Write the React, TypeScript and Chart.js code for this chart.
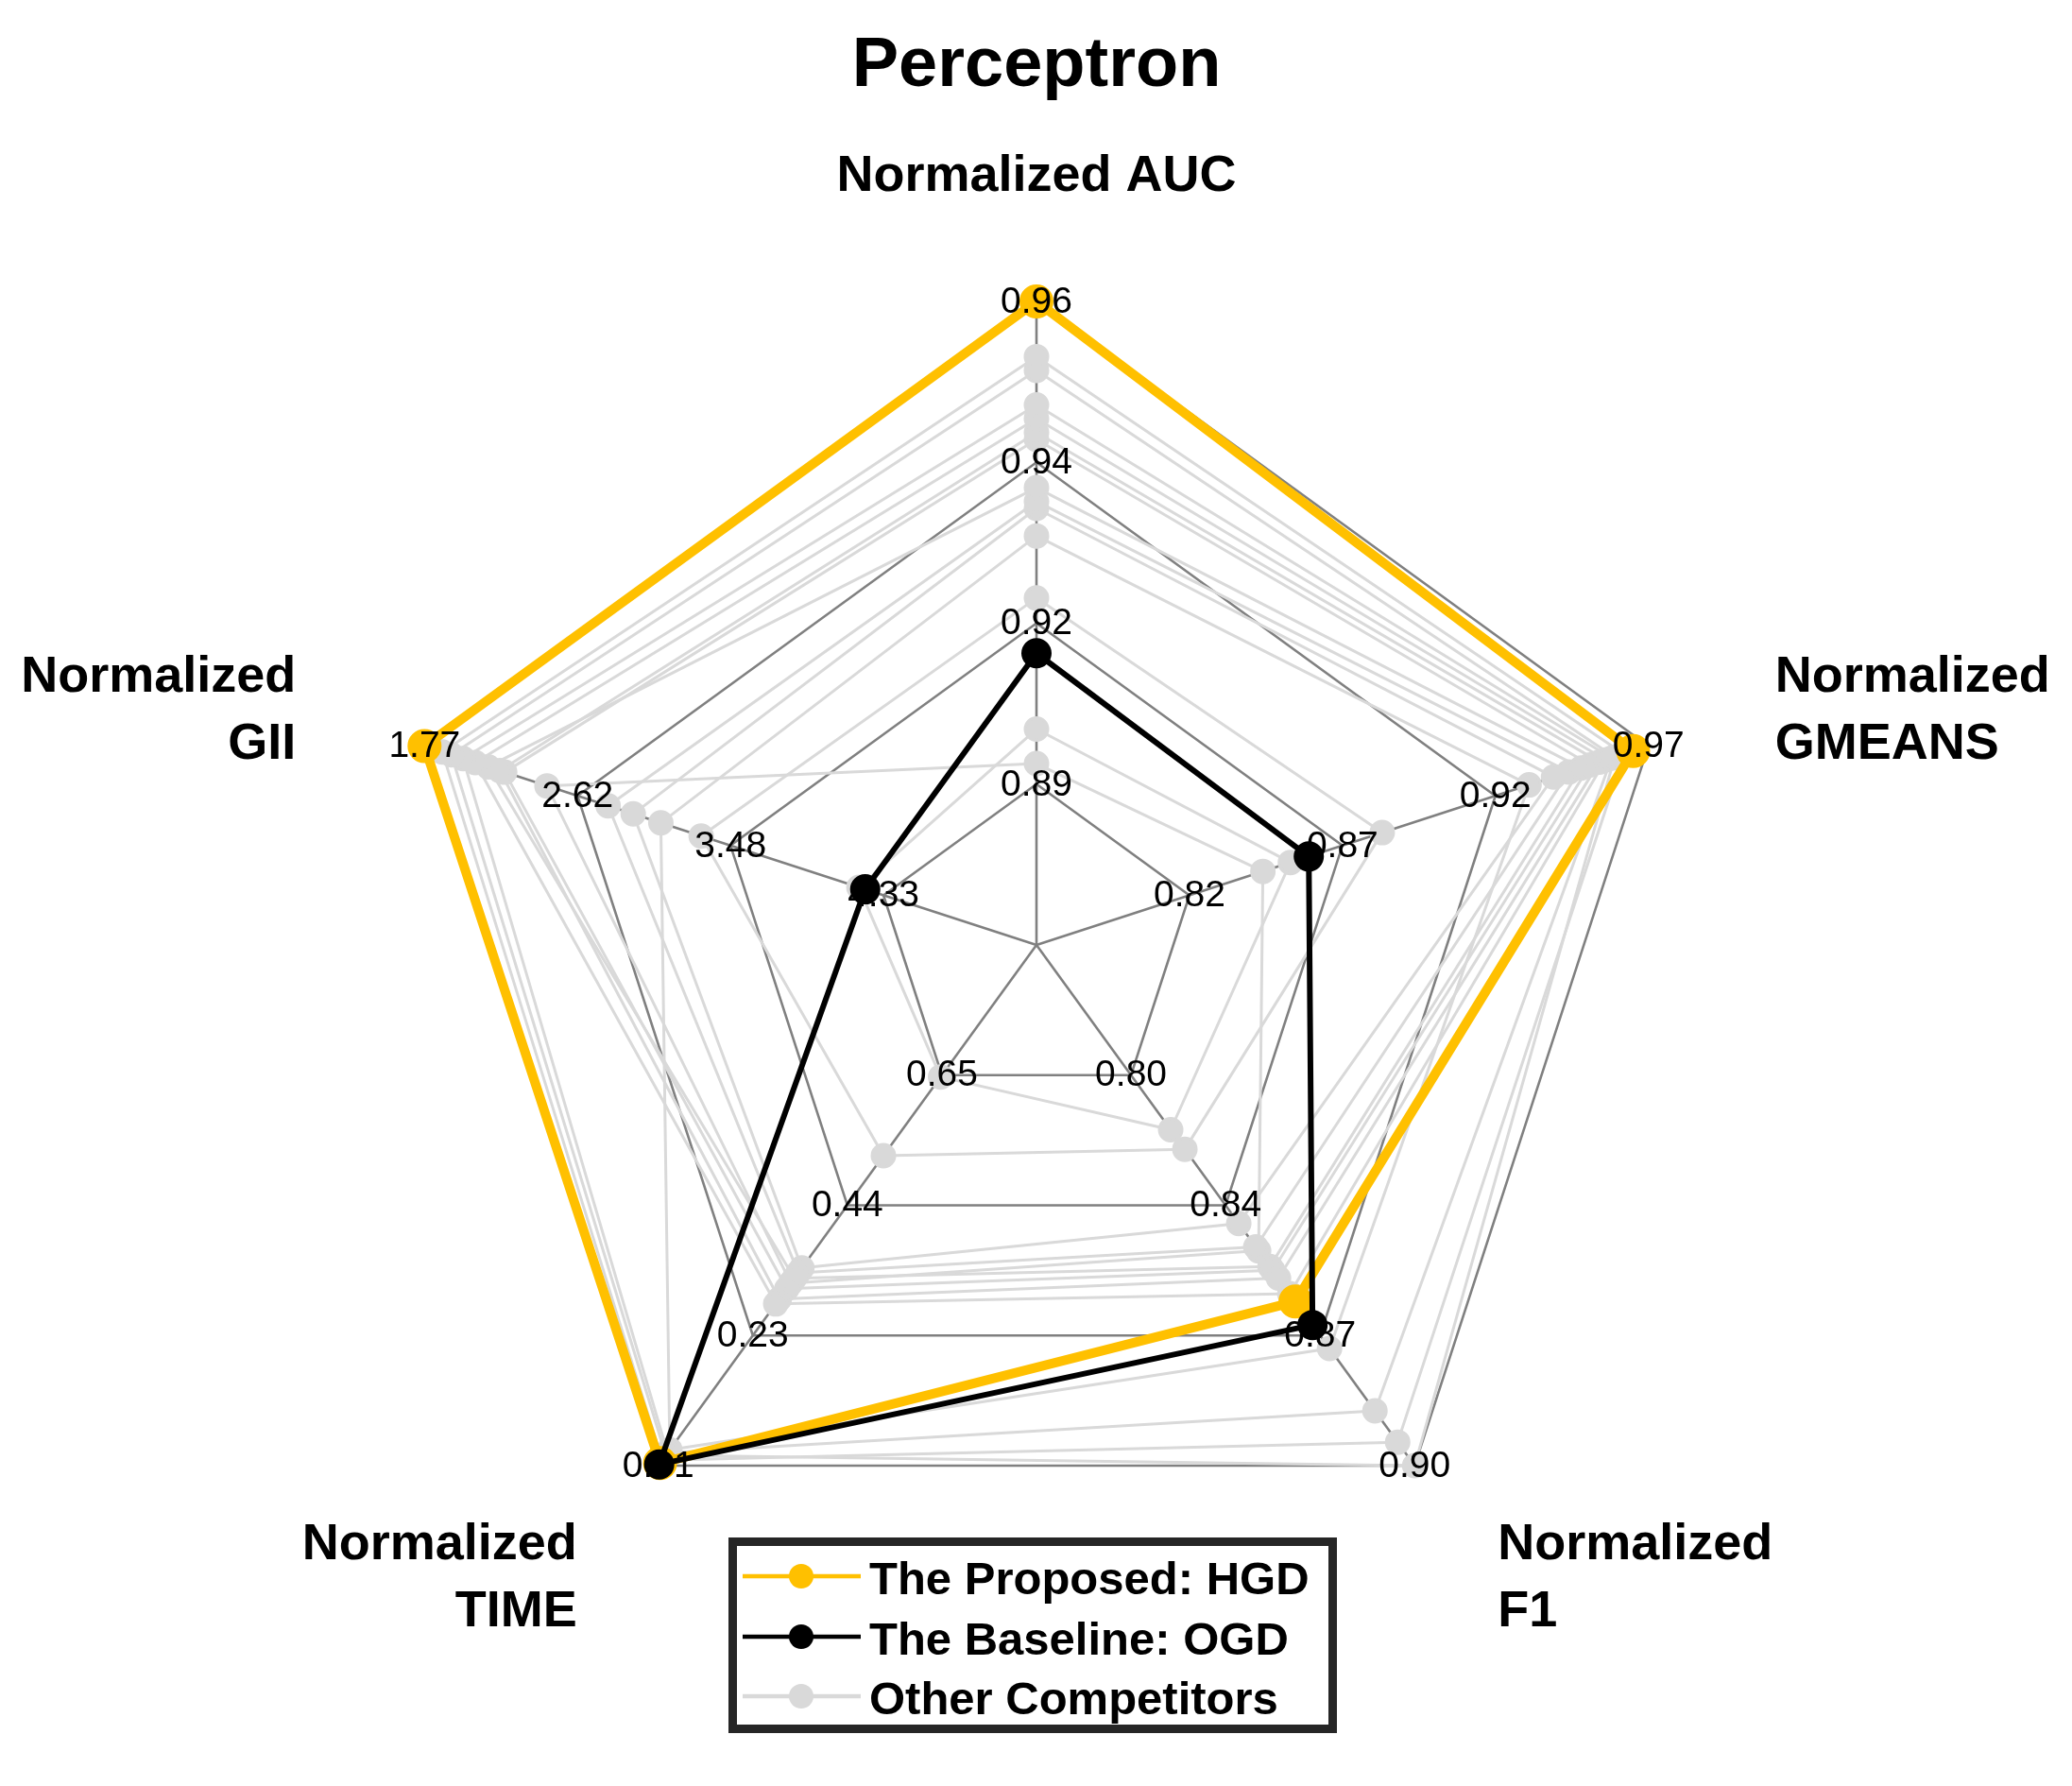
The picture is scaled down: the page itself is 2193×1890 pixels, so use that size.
import React, { useEffect, useRef } from "react";
import { Chart, registerables } from "chart.js";

Chart.register(...registerables);

const W = 2193;
const H = 1890;

const title = "Perceptron";
const axisKeys = ["AUC", "GMEANS", "F1", "TIME", "GII"];
const axisNames = [
  ["Normalized AUC"],
  ["Normalized", "GMEANS"],
  ["Normalized", "F1"],
  ["Normalized", "TIME"],
  ["Normalized", "GII"],
];

// tick labels of each axis, inner ring -> outer ring
const ticksAUC = ["0.89", "0.92", "0.94", "0.96"];
const ticksGMEANS = ["0.82", "0.87", "0.92", "0.97"];
const ticksF1 = ["0.80", "0.84", "0.87", "0.90"];
const ticksTIME = ["0.65", "0.44", "0.23", "0.01"];
const ticksGII = ["4.33", "3.48", "2.62", "1.77"];

// value of each axis at the centre and at the outer ring
const axisCentre = [0.8667, 0.77, 0.7667, 0.8633, 5.1833];
const axisOuter = [0.96, 0.97, 0.9, 0.01, 1.77];

// series: [AUC, GMEANS, F1, TIME, GII]
const hgd = [0.96, 0.965, 0.858, 0.014, 1.77];
const ogd = [0.909, 0.859, 0.864, 0.012, 4.228];

// other competitors, one entry per competitor
const otherAUC = [0.952, 0.95, 0.945, 0.943, 0.941, 0.94, 0.933, 0.931, 0.93, 0.926, 0.917, 0.893, 0.898];
const otherGMEANS = [0.962, 0.959, 0.958, 0.956, 0.954, 0.951, 0.948, 0.944, 0.939, 0.931, 0.883, 0.844, 0.853];
const otherF1 = [0.894, 0.9, 0.886, 0.856, 0.852, 0.85, 0.849, 0.844, 0.838, 0.87, 0.819, 0.845, 0.814];
const otherTIME = [0.019, 0.027, 0.031, 0.275, 0.283, 0.3, 0.317, 0.326, 0.334, 0.036, 0.518, 0.309, 0.647];
const otherGII = [1.869, 1.92, 1.985, 2.053, 2.19, 2.217, 2.125, 2.794, 2.934, 3.088, 3.313, 2.453, 4.193];

const legendItems = [
  { label: "The Proposed: HGD", color: "#FFC000" },
  { label: "The Baseline: OGD", color: "#000000" },
  { label: "Other Competitors", color: "#D9D9D9" },
];

const FONT = '"Liberation Sans", Arial, Helvetica, sans-serif';

const norm = (vals: number[]) =>
  vals.map((v, i) => (v - axisCentre[i]) / (axisOuter[i] - axisCentre[i]));

// label placement relative to the outer point of each axis
const labelLayout = [
  { dx: 0, dy: -117, align: "center" },
  { dx: 134, dy: -58, align: "left" },
  { dx: 88, dy: 99, align: "left" },
  { dx: -86, dy: 99, align: "right" },
  { dx: -136, dy: -58, align: "right" },
];

export default function App() {
  const ref = useRef<HTMLCanvasElement | null>(null);

  useEffect(() => {
    const canvas = ref.current;
    if (!canvas) return;
    const allTicks = [ticksAUC, ticksGMEANS, ticksF1, ticksTIME, ticksGII];

    const competitorSets = otherAUC.map((_, k) => ({
      label: "Other Competitors",
      data: norm([otherAUC[k], otherGMEANS[k], otherF1[k], otherTIME[k], otherGII[k]]),
      borderColor: "#D9D9D9",
      backgroundColor: "#D9D9D9",
      pointBackgroundColor: "#D9D9D9",
      borderWidth: 3,
      pointRadius: 12,
      order: 2,
    }));

    const overlay = {
      id: "overlay",
      afterDatasetDraw(chart: any, args: any) {
        if (args.index !== 1) return;
        const scale = chart.scales.r;
        const ctx = chart.ctx;
        ctx.save();
        ctx.font = `39px ${FONT}`;
        ctx.fillStyle = "#000";
        ctx.textAlign = "center";
        ctx.textBaseline = "middle";
        allTicks.forEach((labels, i) => {
          labels.forEach((t, k) => {
            const d = scale.getDistanceFromCenterForValue((k + 1) * 0.25);
            const p = scale.getPointPosition(i, d);
            ctx.fillText(t, p.x, p.y + 1);
          });
        });
        ctx.restore();
      },
      afterDraw(chart: any) {
        const scale = chart.scales.r;
        const ctx = chart.ctx;
        ctx.save();
        ctx.fillStyle = "#000";
        // title
        ctx.font = `bold 74px ${FONT}`;
        ctx.textAlign = "center";
        ctx.textBaseline = "alphabetic";
        ctx.fillText(title, scale.xCenter, 91);
        // axis names
        ctx.font = `bold 54px ${FONT}`;
        axisNames.forEach((lines, i) => {
          const p = scale.getPointPosition(i, scale.drawingArea);
          const lay = labelLayout[i];
          ctx.textAlign = lay.align;
          lines.forEach((ln, j) => {
            ctx.fillText(ln, p.x + lay.dx, p.y + lay.dy + j * 71);
          });
        });
        // legend
        const bx = 771, by = 1627, bw = 644, bh = 207, bwid = 9;
        ctx.fillStyle = "#fff";
        ctx.fillRect(bx, by, bw, bh);
        ctx.lineWidth = bwid;
        ctx.strokeStyle = "#262626";
        ctx.strokeRect(bx + bwid / 2, by + bwid / 2, bw - bwid, bh - bwid);
        const rows = [1668, 1732, 1795];
        legendItems.forEach((it, i) => {
          const y = rows[i];
          ctx.strokeStyle = it.color;
          ctx.lineWidth = 4.5;
          ctx.beginPath();
          ctx.moveTo(786, y);
          ctx.lineTo(911, y);
          ctx.stroke();
          ctx.fillStyle = it.color;
          ctx.beginPath();
          ctx.arc(848, y, 13, 0, Math.PI * 2);
          ctx.fill();
          ctx.fillStyle = "#000";
          ctx.font = `bold 49px ${FONT}`;
          ctx.textAlign = "left";
          ctx.textBaseline = "alphabetic";
          ctx.fillText(it.label, 920, y + 19);
        });
        ctx.restore();
      },
    };

    const chart = new Chart(canvas, {
      type: "radar",
      data: {
        labels: axisKeys,
        datasets: [
          {
            label: "The Baseline: OGD",
            data: norm(ogd),
            borderColor: "#000000",
            backgroundColor: "#000000",
            pointBackgroundColor: "#000000",
            borderWidth: 6,
            pointRadius: 13,
            order: 0,
          },
          {
            label: "The Proposed: HGD",
            data: norm(hgd),
            borderColor: "#FFC000",
            backgroundColor: "#FFC000",
            pointBackgroundColor: "#FFC000",
            borderWidth: 10,
            pointRadius: 13,
            order: 1,
          },
          ...competitorSets,
        ] as any,
      },
      options: {
        responsive: false,
        animation: false,
        devicePixelRatio: 1,
        layout: { padding: { left: 416, right: 415, top: 319, bottom: 209 } },
        elements: {
          line: { fill: false, tension: 0, borderJoinStyle: "round" },
          point: { pointStyle: "circle", borderWidth: 0, hoverRadius: 13 },
        },
        datasets: { radar: { clip: false } as any },
        plugins: {
          legend: { display: false },
          title: { display: false },
          tooltip: { enabled: false },
        },
        scales: {
          r: {
            min: 0,
            max: 1,
            startAngle: 0,
            ticks: { display: false, stepSize: 0.25 },
            grid: { circular: false, color: "#808080", lineWidth: 2.6 },
            angleLines: { display: true, color: "#808080", lineWidth: 2.6 },
            pointLabels: { display: false },
          },
        },
      } as any,
      plugins: [overlay],
    });

    return () => chart.destroy();
  }, []);

  return (
    <div style={{ position: "fixed", left: 0, top: 0, width: W, height: H, background: "#fff" }}>
      <canvas ref={ref} width={W} height={H} style={{ width: W, height: H, display: "block" }} />
    </div>
  );
}
